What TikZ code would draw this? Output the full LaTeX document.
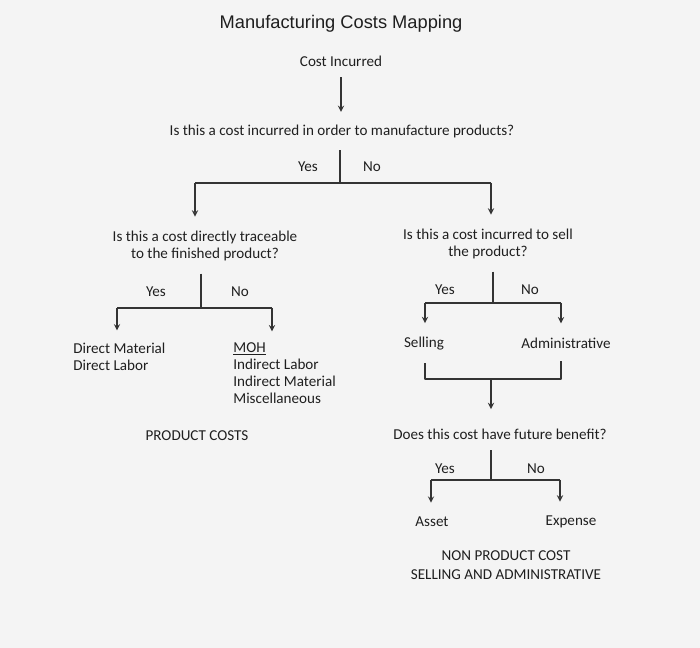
\documentclass[tikz,border=0pt]{standalone}
\usepackage{fontspec}
\setmainfont{Carlito}
\newfontfamily\titlefont{Liberation Sans}
\begin{document}
\begin{tikzpicture}[x=.02cm,y=-.02cm,>=stealth,line join=round,
    font=\fontsize{8.6}{9.8}\selectfont,text=black!88,
    every node/.style={inner sep=0pt},
    link/.style={draw=black!80,line width=.6pt},
    arr/.style={link,->}]
    \fill[gray!9] (0,0) rectangle (700,648);
    \useasboundingbox (0,0) rectangle (700,648);
    % texts
    \node (title) at (341,24) {\titlefont\fontsize{10.4}{12}\selectfont Manufacturing Costs Mapping};
    \node (cost) at (341,61) {Cost Incurred};
    \node (qmake) at (342,131) {Is this a cost incurred in order to manufacture products?};
    \node (yesmake) at (308,167) {Yes};
    \node (nomake) at (372,167) {No};
    \node[align=center] (qtrace) at (205,246) {Is this a cost directly traceable\\to the finished product?};
    \node[align=center] (qsell) at (488,244) {Is this a cost incurred to sell\\the product?};
    \node (yestrace) at (156,292) {Yes};
    \node (notrace) at (240,292) {No};
    \node (yessell) at (445,290) {Yes};
    \node (nosell) at (530,290) {No};
    \node[align=left,anchor=west] (direct) at (73,357) {Direct Material\\Direct Labor};
    \node[align=left,anchor=west] (moh) at (233,373) {\underline{MOH}\\Indirect Labor\\Indirect Material\\Miscellaneous};
    \node (prod) at (197,436) {PRODUCT COSTS};
    \node (selling) at (424,344) {Selling};
    \node (admin) at (566,343) {Administrative};
    \node (qfuture) at (500,434) {Does this cost have future benefit?};
    \node (yesfut) at (445,469) {Yes};
    \node (nofut) at (536,469) {No};
    \node (asset) at (432,522) {Asset};
    \node (expense) at (571,522) {Expense};
    \node[align=center,font=\fontsize{8.6}{10.8}\selectfont] (nonprod) at (506,565) {NON PRODUCT COST\\SELLING AND ADMINISTRATIVE};
    % split points
    \coordinate (jmake) at (340,183);
    \coordinate (lmake) at (195,183);
    \coordinate (rmake) at (491,183);
    \coordinate (jtrace) at (201,308);
    \coordinate (ltrace) at (117,308);
    \coordinate (rtrace) at (272,308);
    \coordinate (jsell) at (493,303);
    \coordinate (lsell) at (425,303);
    \coordinate (rsell) at (561,303);
    \coordinate (lsum) at (425,379);
    \coordinate (rsum) at (561,379);
    \coordinate (jsum) at (491,379);
    \coordinate (jfut) at (491,480);
    \coordinate (lfut) at (431,480);
    \coordinate (rfut) at (560,480);
    % connectors
    \draw[arr,shorten <=6pt,shorten >=7pt] (cost.south) -- (cost.south |- qmake.north);
    \draw[link,shorten <=7pt] (qmake.south -| jmake) -- (jmake);
    \draw[link] (lmake) -- (rmake);
    \draw[arr,shorten >=8pt] (lmake) -- (lmake |- qtrace.north);
    \draw[arr,shorten >=8pt] (rmake) -- (rmake |- qsell.north);
    \draw[link,shorten <=7pt] (qtrace.south -| jtrace) -- (jtrace);
    \draw[link] (ltrace) -- (rtrace);
    \draw[arr,shorten >=7pt] (ltrace) -- (ltrace |- direct.north);
    \draw[arr,shorten >=6pt] (rtrace) -- (rtrace |- moh.north);
    \draw[link,shorten <=7pt] (qsell.south -| jsell) -- (jsell);
    \draw[link] (lsell) -- (rsell);
    \draw[arr,shorten >=8pt] (lsell) -- (lsell |- selling.north);
    \draw[arr,shorten >=8pt] (rsell) -- (rsell |- admin.north);
    \draw[link,shorten <=7pt] (lsell |- selling.south) -- (lsum) -- (rsum) -- ([yshift=-7pt]rsell |- admin.south);
    \draw[arr,shorten >=11pt] (jsum) -- (jsum |- qfuture.north);
    \draw[link,shorten <=6pt] (qfuture.south -| jfut) -- (jfut);
    \draw[link] (lfut) -- (rfut);
    \draw[arr,shorten >=8pt] (lfut) -- (lfut |- asset.north);
    \draw[arr,shorten >=8pt] (rfut) -- (rfut |- expense.north);
\end{tikzpicture}
\end{document}
